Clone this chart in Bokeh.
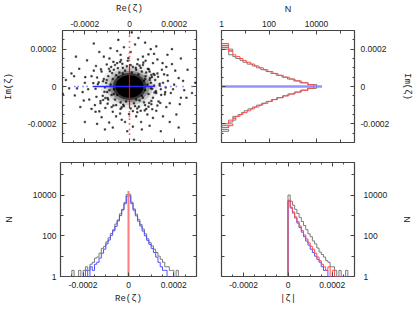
import numpy as np
from bokeh.plotting import figure
from bokeh.layouts import column, row
from bokeh.models import (LinearAxis, LogAxis, FixedTicker, CustomJSTickFormatter,
                          Range1d, ColumnDataSource)
from bokeh.embed import file_html
from bokeh.resources import INLINE

# ---------------- data ----------------
lin_ticks = [-0.0002, 0.0, 0.0002]
lin_minor = [-0.00025, -0.00015, -0.0001, -0.00005, 0.00005, 0.0001, 0.00015, 0.00025]
log_ticks = [1, 100, 10000]
log_minor = [10, 1000, 100000]

# histogram bins of Re / Im (width 1e-5 from -3e-4 to 3e-4)
re_im_edges = np.linspace(-0.0003, 0.0003, 61)
abs_edges = np.linspace(0.0, 0.0003, 31)

gray_re = [0, 0, 0, 0, 1, 2, 1, 1, 2, 1, 2, 3, 2, 4, 5, 8, 9, 14, 24, 30, 50, 80, 130, 200, 380, 600, 1200, 2000, 4300, 10500,
           11000, 4500, 2100, 1150, 640, 360, 215, 125, 72, 46, 32, 22, 15, 10, 7, 5, 3, 3, 2, 2, 1, 2, 1, 1, 1, 0, 0, 0, 0, 0]
blue_re = [0, 0, 1, 0, 0, 0, 0, 0, 0, 1, 1, 2, 1, 3, 2, 4, 5, 8, 14, 22, 40, 62, 105, 175, 290, 540, 980, 1850, 3700, 8800,
           9000, 3800, 1800, 950, 520, 300, 170, 100, 60, 38, 24, 15, 9, 5, 3, 2, 2, 1, 0, 1, 0, 0, 0, 0, 0, 0, 0, 0, 1, 0]
red_re_at = [0.0]
red_re_n = [16000]

gray_im = [0, 0, 1, 0, 1, 1, 2, 1, 2, 1, 2, 3, 4, 3, 5, 7, 9, 13, 20, 30, 48, 75, 125, 210, 370, 620, 1150, 2100, 4400, 10000,
           10200, 4400, 2000, 1100, 600, 350, 200, 120, 75, 45, 30, 20, 12, 8, 6, 4, 3, 2, 2, 3, 1, 2, 1, 1, 0, 1, 0, 1, 0, 0]
red_im = [0, 0, 0, 0, 0, 1, 1, 1, 2, 3, 2, 2, 3, 4, 6, 8, 12, 17, 24, 38, 55, 90, 140, 230, 400, 700, 1250, 2300, 4200, 7600,
          7800, 4300, 2300, 1250, 720, 400, 240, 145, 90, 58, 38, 25, 17, 11, 8, 6, 4, 3, 3, 2, 2, 1, 2, 1, 1, 0, 0, 0, 0, 0]
blue_im_at = [0.0]
blue_im_n = [17000]

gray_abs = [10000, 5000, 3200, 2000, 1250, 800, 500, 320, 200, 125, 90, 56, 40, 25, 16, 12, 9, 6, 5, 3, 3, 2, 1, 2, 1, 1, 2, 0, 1, 0]
red_abs = [5600, 2600, 1500, 850, 500, 300, 180, 110, 70, 45, 30, 22, 14, 9, 6, 4, 3, 2, 3, 1, 2, 1, 0, 1, 0, 0, 0, 0, 0, 0]
blue_abs = [5000, 2300, 1300, 750, 420, 250, 150, 90, 55, 35, 22, 15, 10, 7, 5, 3, 2, 2, 1, 1, 0, 1, 0, 0, 1, 0, 1, 0, 0, 0]

# scatter: dense core of black points (Re/Im diameters, in 1e-4) and its shading
core_re_diam = [2.6, 2.1, 1.8, 1.5, 1.25]
core_im_diam = [2.4, 2.0, 1.7, 1.45, 1.2]
core_shade = [0.07, 0.15, 0.3, 0.6, 1.0]

# sparse black points (Re, Im in units of 1e-4)
halo_re = [0.65, 0.7, 0.72, 0.6, 0.8, 0.85, 0.9, 0.75, 0.55, 0.3, 0.1, -0.2, -0.45, -0.6, -0.75, -0.85, -0.7, -0.8, -0.65, -0.4,
           -0.15, 0.2, 0.45, 0.65, 0.95, 1.0, 0.9, 0.5, 0.15, -0.3, -0.7, -0.95, -1.05, -1.0, -0.95, -0.6, -0.25, 0.25, 0.7, 1.05,
           1.1, 0.82, -0.88, -1.1, 0.4, -0.5, -0.55, 0.55, 0.95, -0.9, 0.3, -0.3, 0.7, -0.7, 1.15, -1.15, 0.35, -0.4, 1.2, -1.2,
           0.6, -0.65, 0.75, -0.8, 1.25, -1.25, 1.3, -1.3,
           0.92, 1.02, 1.12, 0.98, 0.87, 0.45, 0.05, -0.12, -0.52, -0.78, -1.02, -1.12, -1.08, -0.98, -0.72, -0.35, 0.05, 0.42,
           0.88, 1.18, 1.35, 0.62, -0.42, -1.38, 0.15, -0.08, 1.08, -1.18, 0.5, -0.55, 1.4, -1.42, 0.98, -0.92, 0.28, -0.28,
           1.5, 1.6, 1.45, 1.7, 1.8, 2.0, 2.2, 2.45, 2.3, 1.9, 1.1, 1.2, 0.6, 0.25, -0.4, -0.9, -1.35, -1.5, -1.7, -2.0,
           -2.48, -2.45, -2.1, -1.8, -1.55, -1.35, -0.91, -0.6, -0.2, 0.3, 0.8, 1.2, 1.5, 0.9, -0.1, -1.1, 2.1, 1.7, -1.9, -2.2,
           2.6, -2.7, 0.4, -0.5, 1.4, -1.6, 2.8, -2.85,
           1.35, 1.42, 1.28, 1.55, 1.62, 1.38, 1.05, 0.72, 0.38, -0.05, -0.38, -0.72, -1.02, -1.28, -1.45, -1.52, -1.48, -1.3,
           -1.08, -0.75, -0.42, -0.02, 0.35, 0.68, 1.02, 1.25, 1.72, 1.85, 1.65, 1.25, 0.85, 0.05, -0.55, -1.15, -1.6, -1.85,
           -1.7, -1.25, -0.35, 0.52, 1.05, 1.65, 2.05, 2.25, -2.25, -2.05, 0.95, -0.85, 0.15, 1.95, -1.98, 2.4, -2.35, 0.7,
           -0.25, 0.55, -0.75, 1.8, -1.45, 2.55, -2.6, 0.98, -0.98, 1.12, -1.18, 0.35, -0.32, 0.85, -0.82, 1.48, -1.52, 1.58,
           -1.62, 2.95, -2.98, 0.1, 0.2, 1.9, -2.0, 2.3, -2.4, 2.2]
halo_im = [0.3, -0.2, 0.55, -0.6, 0.1, -0.4, 0.35, 0.75, 0.8, 0.9, 0.75, 0.85, 0.75, 0.6, 0.4, 0.1, -0.15, -0.45, -0.7, -0.85,
           -0.8, -0.9, -0.75, -0.85, -0.1, 0.5, 0.8, 1.0, 1.05, 1.0, 0.9, 0.55, 0.2, -0.3, -0.7, -1.0, -1.05, -1.05, -1.0, -0.6,
           0.05, 0.95, 0.82, -0.05, 0.65, 0.5, -0.45, -0.5, 0.2, -0.2, -0.7, 0.7, 0.4, -0.4, 0.35, 0.4, 1.2, -1.2, -0.35, -0.5,
           1.15, 1.15, -1.2, -1.1, 0.7, 0.8, -0.8, -0.9,
           0.45, -0.12, 0.62, -0.78, 0.92, 1.12, 1.15, 1.08, 0.98, 0.72, 0.35, -0.28, -0.62, -0.92, -1.02, -1.12, -1.18, -1.08,
           -0.88, -0.25, 0.05, 1.28, 1.32, 0.22, -1.32, 1.38, 0.68, -0.72, -1.3, 1.25, -0.15, 0.12, -0.95, 0.95, 1.0, -0.98,
           0.2, -0.3, 0.9, 0.6, -0.9, 0.1, 0.45, -0.2, -0.6, 1.2, 1.75, 2.15, 1.6, 2.25, 1.7, 1.5, 1.85, 1.1, 0.55, 0.2,
           0.55, -0.48, -0.3, -0.7, -1.0, -1.33, -1.93, -1.6, -1.9, -1.6, -1.5, -1.3, -1.6, -2.1, -2.4, -2.3, -1.5, 1.7, 1.4, -1.1,
           0.9, -0.1, 2.6, 2.5, -2.4, 2.3, -0.35, 0.35,
           0.15, -0.45, 0.52, 0.65, -0.05, -0.88, 1.25, 1.38, 1.45, 1.52, 1.42, 1.32, 1.18, 0.92, 0.48, -0.12, -0.55, -0.78,
           -1.15, -1.35, -1.45, -1.48, -1.38, -1.28, -1.22, -1.02, 0.3, -0.35, 1.05, 1.45, 1.72, 1.85, 1.9, 1.6, 0.85, -0.15,
           -1.2, -1.65, -1.78, -1.9, -1.68, -1.1, 0.85, -0.95, 0.95, -0.75, 2.0, 2.05, -2.15, -0.15, 0.5, 0.3, -0.1, 2.35,
           2.1, -2.3, -2.2, -1.9, -2.0, -0.6, 0.7, 0.62, -0.62, -0.32, 0.28, -1.18, 1.22, -1.08, 1.05, 1.25, -1.35, -0.42,
           0.18, 0.2, -0.4, 2.9, -2.85, 2.0, -1.9, 1.5, 1.6, -2.2]

# red points (Re = 0): dense stretch and sparse Im values (1e-4)
red_dense_im = [-1.15, 1.2]
red_sparse_im = [1.4, 1.6, 1.8, 2.1, 2.4, 2.7, -1.35, -1.6, -1.75, -2.0, -2.3, -2.55]
# blue points (Im = 0): dense stretch and sparse Re values (1e-4)
blue_dense_re = [-1.65, 1.15]
blue_sparse_re = [-2.95, -2.45, -2.3, -2.08, -1.9, 1.4, 1.6, 1.85, 2.1, 2.4, 2.8]

UNIT = 1e-4

# ---------------- styles ----------------
FRAME = "#444444"
GRAY = "#7a7a7a"
RED = "#ff4a4a"
BLUE = "#5050ff"
TICK_FONT = "Liberation Sans"
TICK_SIZE = "8.5px"
MONO = "Liberation Mono"

fmt_code = """
if (Math.abs(tick) < 1e-12) { return "0"; }
return String(parseFloat(tick.toPrecision(6)));
"""


def make_axis(kind, labels, title=None, title_font=MONO, std=5, tstd=8):
    if kind == "log":
        ax = LogAxis(ticker=FixedTicker(ticks=log_ticks, minor_ticks=log_minor))
        ax.minor_tick_in = 3
    else:
        ax = LinearAxis(ticker=FixedTicker(ticks=lin_ticks, minor_ticks=lin_minor))
        ax.minor_tick_in = 2
    ax.formatter = CustomJSTickFormatter(code=fmt_code)
    ax.major_tick_in = 4
    ax.major_tick_out = 0
    ax.minor_tick_out = 0
    ax.major_tick_line_color = FRAME
    ax.minor_tick_line_color = FRAME
    ax.axis_line_color = None
    ax.major_label_text_font = TICK_FONT
    ax.major_label_text_font_size = TICK_SIZE
    ax.major_label_text_color = "#222222"
    ax.major_label_standoff = std
    if not labels:
        ax.major_label_text_font_size = "0px"
        ax.major_label_standoff = 0
    if title is not None:
        ax.axis_label = title
        ax.axis_label_text_font = title_font
        ax.axis_label_text_font_size = "9px"
        ax.axis_label_text_font_style = "normal"
        ax.axis_label_text_color = "#222222"
        ax.axis_label_standoff = tstd
    return ax


def make_fig(w, h, l, r, t, b, xr, yr, xlog=False, ylog=False):
    p = figure(width=w, height=h, x_range=xr, y_range=yr,
               x_axis_type="log" if xlog else "linear",
               y_axis_type="log" if ylog else "linear",
               x_axis_location=None, y_axis_location=None,
               toolbar_location=None, output_backend="svg",
               min_border_left=l, min_border_right=r, min_border_top=t, min_border_bottom=b)
    for g in p.grid:
        g.visible = False
    p.outline_line_color = FRAME
    p.outline_line_width = 1.2
    p.background_fill_color = "white"
    p.border_fill_color = "white"
    return p


def step_path(edges, counts, floor=0.3):
    xs, ys = [edges[0]], [floor]
    for i, c in enumerate(counts):
        v = c if c > 0 else floor
        xs += [edges[i], edges[i + 1]]
        ys += [v, v]
    xs.append(edges[-1])
    ys.append(floor)
    return xs, ys


LIN = (-0.0003, 0.0003)
LOG = (1, 10 ** 5.6)

# ---------------- top-left: scatter ----------------
tl = make_fig(208, 150, 59, 12, 26, 8, Range1d(*LIN), Range1d(*LIN))
tl.add_layout(make_axis("lin", True, "Re(ζ)", std=4, tstd=4), "above")
tl.add_layout(make_axis("lin", False), "below")
tl.add_layout(make_axis("lin", True, "Im(ζ)", std=6, tstd=11), "left")
tl.add_layout(make_axis("lin", False), "right")

core = ColumnDataSource(dict(x=[0.0] * len(core_shade), y=[0.0] * len(core_shade),
                             w=[d * UNIT for d in core_re_diam], h=[d * UNIT for d in core_im_diam],
                             a=core_shade))
tl.ellipse(x="x", y="y", width="w", height="h", source=core, fill_color="black",
           fill_alpha="a", line_color=None)
tl.scatter([v * UNIT for v in halo_re], [v * UNIT for v in halo_im], marker="square",
           size=1.6, fill_color="black", line_color="black", line_width=0.6, alpha=0.7)
tl.scatter([v * UNIT for v in blue_sparse_re], [0.0] * len(blue_sparse_re), marker="square",
           size=1.6, fill_color="#8080ff", line_color=None)
tl.line([v * UNIT for v in blue_dense_re], [0.0, 0.0], line_color="#2828ff", line_width=1.5)
tl.scatter([0.0] * len(red_sparse_im), [v * UNIT for v in red_sparse_im], marker="square",
           size=1.6, fill_color="#ff6060", line_color=None)
tl.line([0.0, 0.0], [v * UNIT for v in red_dense_im], line_color="#ff0000", line_width=1.2)

# ---------------- top-right: Im histogram (horizontal) ----------------
tr = make_fig(207, 150, 13, 58, 26, 8, Range1d(*LOG), Range1d(*LIN), xlog=True)
tr.add_layout(make_axis("log", True, "N", title_font=TICK_FONT, std=4, tstd=4), "above")
tr.add_layout(make_axis("log", False), "below")
tr.add_layout(make_axis("lin", False), "left")
tr.add_layout(make_axis("lin", True, "Im(ζ)", std=6, tstd=10), "right")

ys, xs = step_path(list(re_im_edges), gray_im)
tr.line(xs, ys, line_color=GRAY, line_width=1)
ys, xs = step_path(list(re_im_edges), red_im)
tr.line(xs, ys, line_color=RED, line_width=1)
tr.hbar(y=blue_im_at, right=blue_im_n, left=0.3, height=0.000014, fill_color="#7878ff",
        fill_alpha=0.8, line_color=None)

# ---------------- bottom-left: Re histogram ----------------
bl = make_fig(208, 160, 54, 12, 12, 34, Range1d(*LIN), Range1d(*LOG), ylog=True)
bl.add_layout(make_axis("lin", True, "Re(ζ)", std=5, tstd=3), "below")
bl.add_layout(make_axis("lin", False), "above")
bl.add_layout(make_axis("log", True, "N", title_font=TICK_FONT, std=4, tstd=16), "left")
bl.add_layout(make_axis("log", False), "right")

xs, ys = step_path(list(re_im_edges), gray_re)
bl.line(xs, ys, line_color=GRAY, line_width=1)
xs, ys = step_path(list(re_im_edges), blue_re)
bl.line(xs, ys, line_color=BLUE, line_width=1)
bl.vbar(x=red_re_at, top=red_re_n, bottom=0.3, width=0.000009, fill_color="#ff6f6f",
        fill_alpha=0.9, line_color=None)

# ---------------- bottom-right: |zeta| histogram ----------------
br = make_fig(207, 160, 13, 53, 12, 34, Range1d(*LIN), Range1d(*LOG), ylog=True)
br.add_layout(make_axis("lin", True, "|ζ|", std=5, tstd=3), "below")
br.add_layout(make_axis("lin", False), "above")
br.add_layout(make_axis("log", False), "left")
br.add_layout(make_axis("log", True, "N", title_font=TICK_FONT, std=9, tstd=12), "right")

xs, ys = step_path(list(abs_edges), gray_abs)
br.line(xs, ys, line_color=GRAY, line_width=1)
xs, ys = step_path(list(abs_edges), blue_abs)
br.line(xs, ys, line_color=BLUE, line_width=1)
xs, ys = step_path(list(abs_edges), red_abs)
br.line(xs, ys, line_color=RED, line_width=1)

root = column(row(tl, tr), row(bl, br),
              styles={"position": "absolute", "left": "0px", "top": "0px"})

open("out.html", "w").write(file_html(root, INLINE))
